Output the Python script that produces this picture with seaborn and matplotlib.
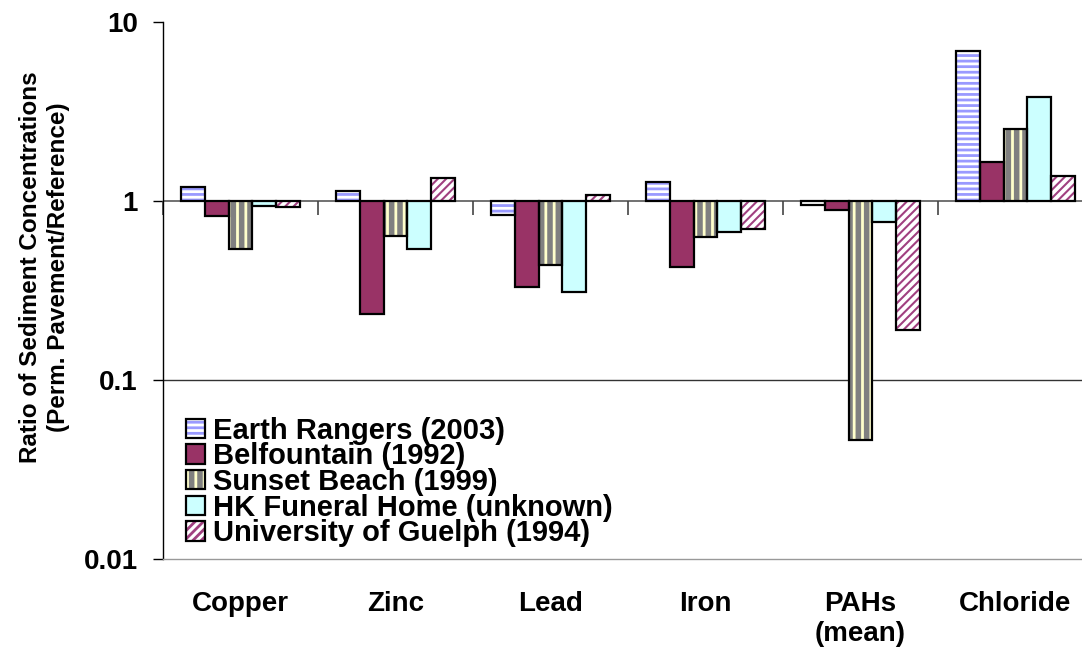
import numpy as np
import pandas as pd
import matplotlib
matplotlib.use('Agg')
import matplotlib.pyplot as plt
import matplotlib.markers as mmarkers
from matplotlib.legend_handler import HandlerTuple
import seaborn as sns

sns.set_style('white')
plt.rcParams['font.family'] = ['Liberation Sans', 'DejaVu Sans']
plt.rcParams['font.weight'] = 'bold'
for key in ['text.color', 'axes.labelcolor', 'xtick.color', 'ytick.color']:
    plt.rcParams[key] = 'black'
plt.rcParams['hatch.linewidth'] = 2.0

# data (ratio perm. pavement / reference)
materials = ['Copper', 'Zinc', 'Lead', 'Iron', 'PAHs\n(mean)', 'Chloride']
sites = ['Earth Rangers (2003)', 'Belfountain (1992)', 'Sunset Beach (1999)',
         'HK Funeral Home (unknown)', 'University of Guelph (1994)']
earth_rangers = [1.19, 1.13, 0.84, 1.28, 0.95, 6.9]
belfountain = [0.82, 0.235, 0.33, 0.43, 0.89, 1.66]
sunset_beach = [0.54, 0.64, 0.44, 0.63, 0.046, 2.52]
hk_funeral = [0.94, 0.54, 0.31, 0.67, 0.76, 3.82]
guelph = [0.93, 1.34, 1.08, 0.70, 0.19, 1.38]

y_ticks = [0.01, 0.1, 1, 10]
y_tick_labels = ['0.01', '0.1', '1', '10']

# look of each series: fill, hatch colour, hatch
fills = ['#9999ff', '#993366', '#808080', '#ccffff', '#ffffff']
hatch_colors = ['#ffffff', '#993366', '#ffffcc', '#ccffff', '#a04080']
hatches = ['---', None, '||', None, '////']

values = [earth_rangers, belfountain, sunset_beach, hk_funeral, guelph]
rows = []
for site, vals in zip(sites, values):
    for mat, v in zip(materials, vals):
        rows.append({'material': mat, 'site': site, 'ratio': v, 'delta': v - 1})
df = pd.DataFrame(rows)

fig = plt.figure(figsize=(10.82, 6.52), dpi=100)
ax = fig.add_axes([163 / 1082, 93 / 652, 930 / 1082, 537 / 652])

# bars grow from 1 up or down, as in the original
for layer in range(2):
    sns.barplot(data=df, x='material', y='delta', hue='site', hue_order=sites,
                order=materials, bottom=1, width=0.77, errorbar=None,
                legend=False, ax=ax, zorder=3 + layer)

fill_layer = ax.containers[:5]
line_layer = ax.containers[5:10]
for i, cont in enumerate(fill_layer):
    for p in cont.patches:
        p.set_facecolor(fills[i])
        p.set_edgecolor(hatch_colors[i])
        p.set_linewidth(0)
        if hatches[i]:
            p.set_hatch(hatches[i])
            if i == 4 and hasattr(p, 'set_hatch_linewidth'):
                p.set_hatch_linewidth(1.5)
for cont in line_layer:
    for p in cont.patches:
        p.set_facecolor('none')
        p.set_edgecolor('black')
        p.set_linewidth(1.6)

ax.set_yscale('log')
ax.set_ylim(0.01, 10)
ax.set_xlim(-0.5, len(materials) - 0.5)

# gridline and the category axis at 1
ax.axhline(0.1, color='#333333', lw=1.0, zorder=1)
ax.axhline(1, color='#666666', lw=1.3, zorder=2)
bounds = np.arange(len(materials) + 1) - 0.5
ax.plot(bounds, np.ones(len(bounds)), ls='none', marker=mmarkers.TICKDOWN,
        markersize=10, mew=1.2, color='#444444', zorder=2, clip_on=False)

ax.yaxis.set_major_locator(matplotlib.ticker.FixedLocator(y_ticks))
ax.yaxis.set_minor_locator(matplotlib.ticker.NullLocator())
ax.set_yticklabels(y_tick_labels, fontsize=20, fontweight='bold')
ax.tick_params(axis='y', direction='out', length=7, width=1, color='black', left=True, pad=11)
ax.tick_params(axis='x', length=0, pad=23)
ax.set_xticks(range(len(materials)))
ax.set_xticklabels(materials, fontsize=20, fontweight='bold')
ax.set_xlabel('')
ax.set_ylabel('Ratio of Sediment Concentrations\n(Perm. Pavement/Reference)',
              fontsize=17.5, fontweight='bold', labelpad=10, linespacing=1.3)
ax.yaxis.label.set_y(0.544)

for side in ['top', 'right']:
    ax.spines[side].set_visible(False)
ax.spines['left'].set_color('black')
ax.spines['left'].set_linewidth(1.0)
ax.spines['bottom'].set_color('#999999')
ax.spines['bottom'].set_linewidth(1.0)

handles = [(f.patches[0], l.patches[0]) for f, l in zip(fill_layer, line_layer)]
ax.legend(handles, sites, handler_map={tuple: HandlerTuple(ndivide=1)},
          loc='lower left', bbox_to_anchor=(0.025, 0.022), frameon=False,
          prop={'size': 21, 'weight': 'bold'}, handlelength=0.65, handleheight=0.65,
          handletextpad=0.27, labelspacing=-0.08, borderaxespad=0, borderpad=0)

fig.savefig('out.png', dpi=100)
